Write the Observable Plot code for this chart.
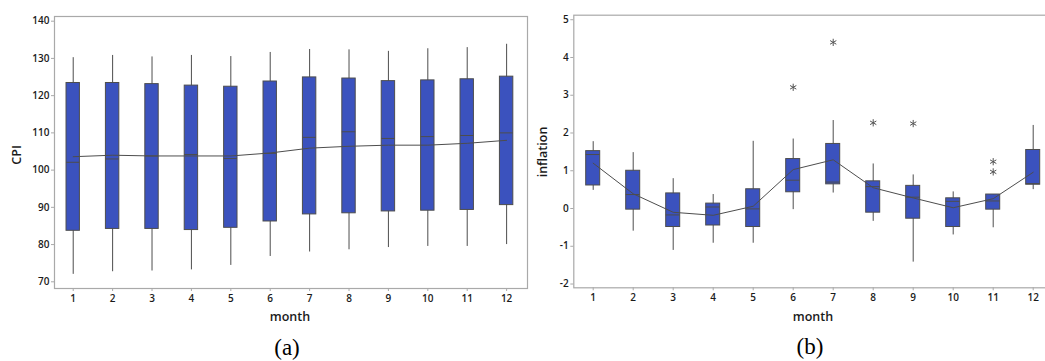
<!DOCTYPE html>
<html><head><meta charset="utf-8">
<script src="https://cdn.jsdelivr.net/npm/d3@7"></script>
<script src="https://cdn.jsdelivr.net/npm/@observablehq/plot@0.6"></script>
<style>
html,body{margin:0;padding:0;background:#fff;overflow:hidden;width:1045px;height:361px;}
#wrap{position:relative;width:1045px;height:361px;overflow:hidden;}
.panel{position:absolute;top:0;width:540px;height:330px;}
.panel svg{max-width:none !important;width:540px;height:330px;}
.lbl{position:absolute;font-family:"Open Sans",sans-serif;font-weight:600;font-size:12.5px;color:#1a1a1a;transform:translate(-50%,-50%);white-space:nowrap;line-height:1;}
.rot{transform:translate(-50%,-50%) rotate(-90deg);}
.cap{position:absolute;font-family:"Liberation Serif","Times New Roman",serif;font-size:23px;color:#000;transform:translate(-50%,-50%);line-height:1;}
</style></head><body><div id="wrap"></div>
<script>
// ---- data ----
const months = [1,2,3,4,5,6,7,8,9,10,11,12];

const cpiMin    = [72.0,72.7,72.9,73.2,74.4,76.8,78.0,78.6,79.2,79.5,79.5,80.0];
const cpiQ1     = [83.7,84.2,84.2,83.9,84.5,86.2,88.1,88.4,88.9,89.1,89.3,90.6];
const cpiMedian = [102.1,103.0,103.8,104.2,103.1,104.5,108.8,110.3,108.5,109.0,109.3,110.0];
const cpiQ3     = [123.4,123.4,123.1,122.7,122.4,123.8,124.9,124.6,123.9,124.1,124.4,125.1];
const cpiMax    = [130.2,130.8,130.4,130.8,130.5,131.6,132.4,132.3,131.9,132.6,132.9,133.8];
const cpiMean   = [103.6,104.0,103.8,103.8,103.8,104.6,105.9,106.4,106.7,106.7,107.2,108.0];
const cpiTicks  = [70,80,90,100,110,120,130,140];

const inflMin    = [0.48,-0.60,-1.11,-0.92,-0.92,-0.03,0.41,-0.34,-1.42,-0.70,-0.51,0.50];
const inflQ1     = [0.61,-0.03,-0.49,-0.45,-0.49,0.43,0.64,-0.11,-0.27,-0.49,-0.03,0.63];
const inflMedian = [1.43,0.37,-0.17,0.04,-0.01,0.75,0.70,0.58,0.30,0.19,0.20,0.66];
const inflQ3     = [1.52,1.00,0.40,0.13,0.51,1.31,1.71,0.72,0.60,0.27,0.37,1.55];
const inflMax    = [1.77,1.48,0.79,0.37,1.78,1.84,2.33,1.18,0.89,0.44,0.37,2.20];
const inflMean   = [1.20,0.39,-0.10,-0.18,0.06,1.03,1.29,0.55,0.28,0.02,0.26,0.96];
const inflTicks  = [-2,-1,0,1,2,3,4,5];
const outlierMonth = [6,7,8,9,11,11];
const outlierValue = [3.21,4.40,2.27,2.25,1.24,0.97];

const xLabel = "month";
const yLabelA = "CPI";
const yLabelB = "inflation";
const capA = "(a)";
const capB = "(b)";

// ---- drawing ----
const BOX = "#3b52be", EDGE = "#4d4d4d", FRAME = "#a9a9a9";

function rowsOf(mn,q1,md,q3,mx,me){
  return months.map((m,i)=>({month:m,min:mn[i],q1:q1[i],median:md[i],q3:q3[i],max:mx[i],mean:me[i]}));
}

function panel(o){
  const rows = rowsOf(o.min,o.q1,o.med,o.q3,o.max,o.mean);
  const outs = (o.outM||[]).map((m,i)=>({month:m,value:o.outV[i]}));
  const h = o.half;
  return Plot.plot({
    width:o.width, height:o.height,
    marginLeft:o.marginLeft, marginRight:o.marginRight, marginTop:o.marginTop, marginBottom:o.marginBottom,
    style:{fontFamily:"Open Sans, sans-serif", fontSize:"10px", fontWeight:600, color:"#1a1a1a", background:"transparent", overflow:"visible"},
    x:{type:"linear", domain:o.xDomain},
    y:{type:"linear", domain:o.yDomain},
    marks:[
      Plot.frame({stroke:FRAME, strokeWidth:1.2}),
      Plot.axisY({ticks:o.yTicks, tickSize:3, tickPadding:2, label:null, stroke:FRAME, tickFormat:d=>String(d)}),
      Plot.axisX({ticks:months, tickSize:3, tickPadding:3, label:null, stroke:FRAME, tickFormat:d=>String(d)}),
      Plot.ruleX(rows,{x:"month", y1:"min", y2:"max", stroke:EDGE, strokeWidth:1}),
      Plot.rect(rows,{x1:d=>d.month-h, x2:d=>d.month+h, y1:"q1", y2:"q3", fill:BOX, stroke:EDGE, strokeWidth:1}),
      Plot.ruleY(rows,{y:"median", x1:d=>d.month-h, x2:d=>d.month+h, stroke:EDGE, strokeWidth:1}),
      Plot.line(rows,{x:"month", y:"mean", stroke:EDGE, strokeWidth:1}),
      Plot.dot(outs,{x:"month", y:"value", symbol:"asterisk", r:3.4, stroke:"#555", strokeWidth:1})
    ]
  });
}

const wrap = document.getElementById("wrap");

function place(el,left){
  const d=document.createElement("div");
  d.className="panel"; d.style.left=left+"px"; d.appendChild(el); wrap.appendChild(d);
}
function label(text,x,y,cls){
  const d=document.createElement("div");
  d.className=cls; d.textContent=text; d.style.left=x+"px"; d.style.top=y+"px"; wrap.appendChild(d);
}

// Panel (a): frame 54..527 x, 16..288 y
place(panel({
  width:540, height:330, marginLeft:54, marginRight:13, marginTop:16, marginBottom:42,
  xDomain:[0.525,12.53], yDomain:[68.2,141.26], yTicks:cpiTicks,
  min:cpiMin,q1:cpiQ1,med:cpiMedian,q3:cpiQ3,max:cpiMax,mean:cpiMean, half:0.17
}),0);

// Panel (b): frame 573.3..~1053 x, 14.7..287.3 y
place(panel({
  width:540, height:330, marginLeft:53.3, marginRight:7.3, marginTop:14.7, marginBottom:42.7,
  xDomain:[0.515,12.5], yDomain:[-2.10,5.12], yTicks:inflTicks,
  min:inflMin,q1:inflQ1,med:inflMedian,q3:inflQ3,max:inflMax,mean:inflMean, half:0.175,
  outM:outlierMonth, outV:outlierValue
}),520);

label(yLabelA,17,155,"lbl rot");
label(xLabel,290,317,"lbl");
label(capA,287,347,"cap");
label(yLabelB,543,152,"lbl rot");
label(xLabel,813,317,"lbl");
label(capB,810,346,"cap");
</script>
</body></html>
